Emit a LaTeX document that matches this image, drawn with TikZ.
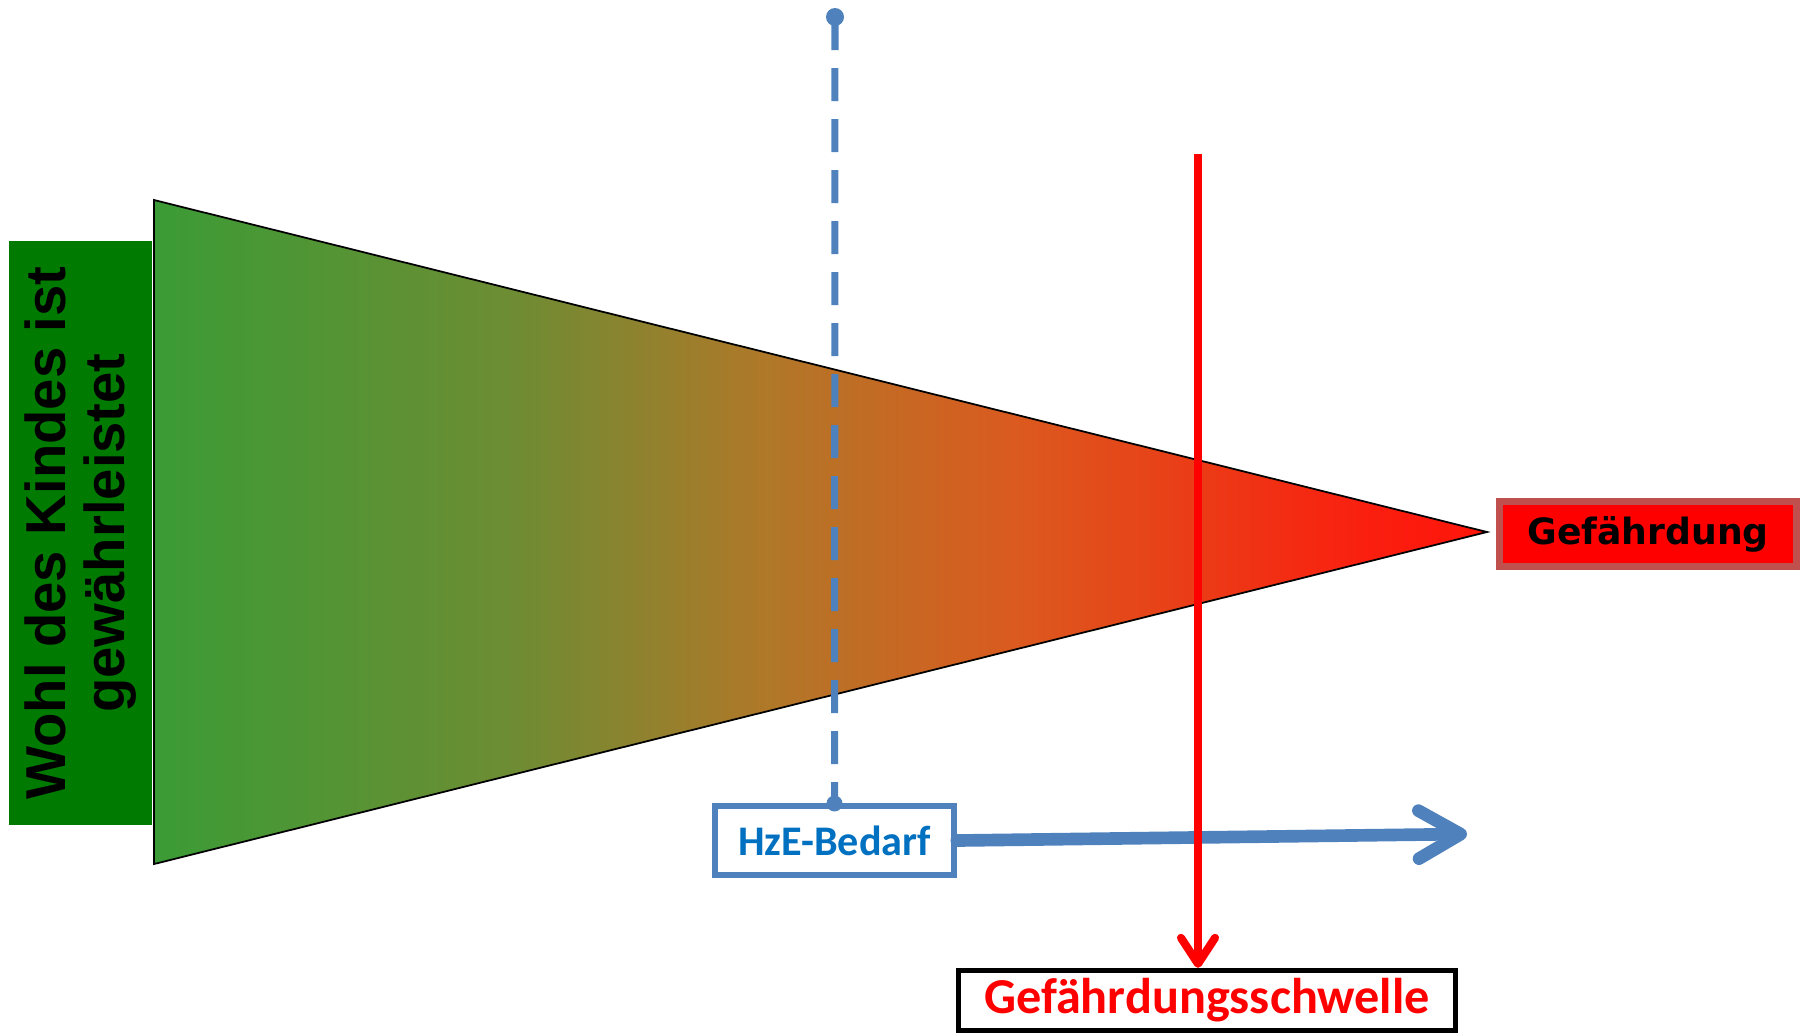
\documentclass[tikz,border=0pt]{standalone}
\usepackage{fontspec}
\usepackage{xcolor}
\usepackage{tikz}
\usetikzlibrary{arrows.meta}
\usetikzlibrary{calc,positioning}
\newfontfamily\arialfont{Liberation Sans}
\newfontfamily\calibrifont{Carlito}
\newfontfamily\verdanafont{DejaVu Sans}
\definecolor{color1}{RGB}{0,122,0}
\definecolor{color2}{RGB}{79,129,189}
\definecolor{color3}{RGB}{192,80,77}
\definecolor{color4}{RGB}{0,112,192}
% gradient of the triangle
\pgfdeclarehorizontalshading{wohlshade}{100bp}{%
  rgb(0bp)=(0.23,0.61,0.21);
  rgb(25bp)=(0.23,0.61,0.21);
  rgb(38.5bp)=(0.43,0.55,0.20);
  rgb(48bp)=(0.69,0.47,0.16);
  rgb(57.5bp)=(0.86,0.35,0.12);
  rgb(70.5bp)=(0.98,0.12,0.06);
  rgb(75bp)=(1,0.08,0.04);
  rgb(100bp)=(1,0.08,0.04)}
\tikzset{%
  % Specifications for style of nodes:
  base/.style = {rectangle, draw=black, inner sep=0pt,
    text centered},
  wohlbox/.style = {base, draw=none, fill=color1, rotate=90,
    minimum width=58.4mm,
    minimum height=14.3mm,
    align=center, font=\arialfont\bfseries\fontsize{16}{17}\selectfont},
  gefbox/.style = {base, draw=color3, line width=2pt, fill=red,
    minimum width=29.7mm,
    minimum height=6.5mm,
    font=\verdanafont\bfseries\fontsize{10.3}{12}\selectfont},
  hzebox/.style = {base, draw=color2, line width=1.6pt, fill=white,
    minimum width=23.9mm,
    minimum height=6.85mm,
    text=color4, font=\calibrifont\bfseries\fontsize{12}{14}\selectfont},
  schwellebox/.style = {base, line width=1.5pt, fill=white,
    minimum width=49.7mm,
    minimum height=6mm,
    text=red, font=\calibrifont\bfseries\fontsize{14.3}{16}\selectfont},
  % Specifications for style of lines:
  hzeline/.style = {color2, line width=2pt,
    dash pattern=on 3.3mm off 1.8mm},
  hzearrow/.style = {color2, line width=3.6pt, line cap=round,
    -{Straight Barb[length=4.2mm,width=4.8mm,line cap=round,line join=round]}},
  schwellearrow/.style = {red, line width=2.3pt,
    -{Straight Barb[length=2.6mm,width=3.4mm,line cap=round,line join=round]}},
}

\begin{document}
\begin{tikzpicture}[x=0.1mm, y=-0.1mm]
        \useasboundingbox (0,0) rectangle (1800,1034);
        % Triangle with gradient
        \shadedraw[shading=wohlshade, draw=black, line width=0.5pt]
          (154,200) -- (1487,532) -- (154,864) -- cycle;
        % Specification of nodes (position, etc.)
        \node(Wohl)[wohlbox] at (80.5,533) {Wohl des Kindes ist \\ gewährleistet};
        \node(Gef)[gefbox] at (1648,534) {Gefährdung};
        \node(HzE)[hzebox] at (834.5,840.5) {HzE-Bedarf};
        \node(Schwelle)[schwellebox] at (1207,1000.5) {Gefährdungsschwelle};
        \coordinate(HzETop) at (835,17);
        \coordinate(HzEEnd) at (1467,834);
        \coordinate(SchwTop) at (1198,154);
        % Lines
        \draw[hzeline](HzETop) -- (HzE.north);
        \fill[color2](HzETop) circle (0.9mm);
        \fill[color2](HzE.north) circle (0.8mm);
        \draw[hzearrow](HzE.east) -- (HzEEnd);
        \draw[schwellearrow](SchwTop) -- (SchwTop |- Schwelle.north);
    \end{tikzpicture}
\end{document}
